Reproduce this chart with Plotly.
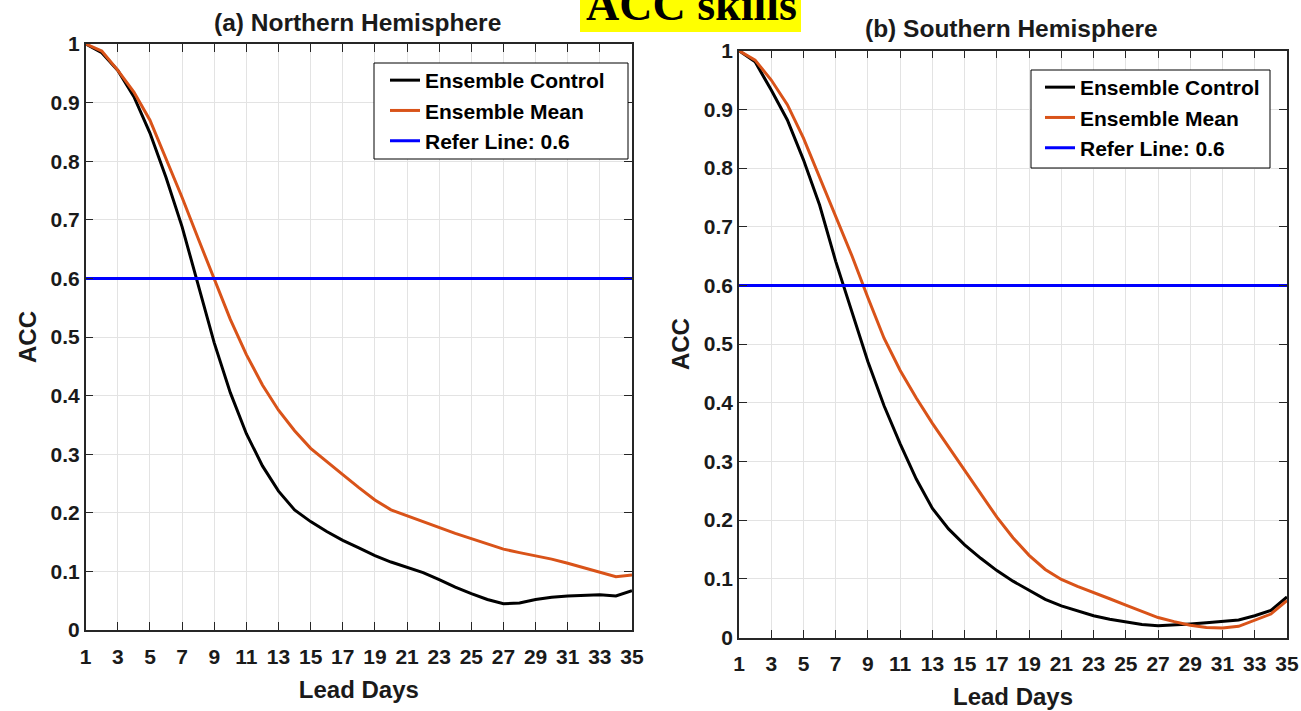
import plotly.graph_objects as go

W, H = 1301, 711

days = list(range(1, 36))

nh_control = [1.000, 0.985, 0.955, 0.910, 0.848, 0.772, 0.688, 0.588, 0.490, 0.405,
              0.335, 0.280, 0.237, 0.205, 0.185, 0.168, 0.153, 0.140, 0.127, 0.116,
              0.107, 0.098, 0.086, 0.073, 0.062, 0.052, 0.045, 0.046, 0.052, 0.056,
              0.058, 0.059, 0.060, 0.058, 0.067]
nh_mean = [1.000, 0.988, 0.955, 0.918, 0.870, 0.805, 0.738, 0.668, 0.600, 0.530,
           0.470, 0.418, 0.375, 0.340, 0.310, 0.287, 0.265, 0.243, 0.222, 0.205,
           0.195, 0.185, 0.174, 0.165, 0.156, 0.147, 0.138, 0.132, 0.127, 0.121,
           0.114, 0.106, 0.099, 0.091, 0.094]
sh_control = [1.000, 0.981, 0.933, 0.882, 0.814, 0.737, 0.641, 0.555, 0.470, 0.395,
              0.330, 0.270, 0.220, 0.185, 0.158, 0.135, 0.114, 0.096, 0.080, 0.065,
              0.054, 0.045, 0.037, 0.031, 0.026, 0.022, 0.020, 0.021, 0.023, 0.025,
              0.027, 0.030, 0.037, 0.046, 0.069]
sh_mean = [1.000, 0.984, 0.950, 0.908, 0.851, 0.785, 0.720, 0.651, 0.579, 0.510,
           0.455, 0.408, 0.365, 0.325, 0.287, 0.245, 0.205, 0.170, 0.140, 0.116,
           0.099, 0.087, 0.077, 0.066, 0.055, 0.044, 0.034, 0.027, 0.021, 0.017,
           0.016, 0.019, 0.029, 0.040, 0.063]
refer_value = 0.6

x_ticks = list(range(1, 36, 2))
y_ticks = [round(i * 0.1, 1) for i in range(11)]
y_ticktext = ["0"] + [f"{v:.1f}" for v in y_ticks[1:-1]] + ["1"]

BLACK = "#000000"
ORANGE = "#D95319"
BLUE = "#0000FF"
AXC = "#262626"
GRID = "#E3E3E3"
TXT = "#1a1a1a"
SANS = "Liberation Sans, Arial, sans-serif"

fig = go.Figure()

panels = [
    (nh_control, nh_mean, "x", "y", "legend"),
    (sh_control, sh_mean, "x2", "y2", "legend2"),
]
for ctrl, mean, xa, ya, lg in panels:
    fig.add_trace(go.Scatter(x=days, y=ctrl, mode="lines", name="Ensemble Control",
                             line=dict(color=BLACK, width=3), xaxis=xa, yaxis=ya, legend=lg))
    fig.add_trace(go.Scatter(x=days, y=mean, mode="lines", name="Ensemble Mean",
                             line=dict(color=ORANGE, width=3), xaxis=xa, yaxis=ya, legend=lg))
    fig.add_trace(go.Scatter(x=[days[0], days[-1]], y=[refer_value, refer_value], mode="lines",
                             name=f"Refer Line: {refer_value}",
                             line=dict(color=BLUE, width=3), xaxis=xa, yaxis=ya, legend=lg))


def px_x(v):
    return v / W


def px_y(v):
    return (H - v) / H


dom = {
    "left": dict(x=[px_x(85.7), px_x(632)], y=[px_y(630), px_y(44)]),
    "right": dict(x=[px_x(739), px_x(1287)], y=[px_y(637.5), px_y(50.7)]),
}

tickfont = dict(family=SANS, size=21, color=TXT, weight="bold")
titlefont = dict(family=SANS, size=24, color=TXT, weight="bold")


def xaxis_cfg(domain, anchor):
    return dict(domain=domain, anchor=anchor, range=[1, 35], tickmode="array", tickvals=x_ticks,
                ticks="inside", ticklen=8, tickwidth=1, tickcolor=AXC, showline=True,
                linecolor=AXC, linewidth=1.5, mirror="ticks", showgrid=True, gridcolor=GRID,
                gridwidth=1, zeroline=False, tickfont=tickfont, ticklabelstandoff=7,
                ticklabeloverflow="allow",
                title=dict(text="Lead Days", font=titlefont, standoff=14), automargin=False)


def yaxis_cfg(domain, anchor):
    return dict(domain=domain, anchor=anchor, range=[0, 1], tickmode="array", tickvals=y_ticks,
                ticktext=y_ticktext, ticks="inside", ticklen=8, tickwidth=1, tickcolor=AXC,
                showline=True, linecolor=AXC, linewidth=1.5, mirror="ticks", showgrid=True,
                gridcolor=GRID, gridwidth=1, zeroline=False, tickfont=tickfont,
                ticklabelstandoff=0, ticklabeloverflow="allow",
                title=dict(text="ACC", font=titlefont, standoff=7),
                automargin=False)


legfont = dict(family=SANS, size=21, color="#000000", weight="bold")
fig.update_layout(
    width=W, height=H, margin=dict(l=0, r=0, t=0, b=0),
    paper_bgcolor="white", plot_bgcolor="white",
    xaxis=xaxis_cfg(dom["left"]["x"], "y"),
    yaxis=yaxis_cfg(dom["left"]["y"], "x"),
    xaxis2=xaxis_cfg(dom["right"]["x"], "y2"),
    yaxis2=yaxis_cfg(dom["right"]["y"], "x2"),
    legend=dict(x=px_x(385), y=px_y(60), xanchor="left", yanchor="top",
                bgcolor="rgba(0,0,0,0)", borderwidth=0, font=legfont),
    legend2=dict(x=px_x(1040), y=px_y(67), xanchor="left", yanchor="top",
                 bgcolor="rgba(0,0,0,0)", borderwidth=0, font=legfont),
    showlegend=True,
)

# legend boxes (white background with black border, above grid and lines)
for (x0, x1, y0, y1) in [(374, 628, 63, 159), (1031, 1270, 70, 168)]:
    fig.add_shape(type="rect", xref="paper", yref="paper", x0=px_x(x0), x1=px_x(x1),
                  y0=px_y(y1), y1=px_y(y0), fillcolor="white",
                  line=dict(color="#000000", width=1), layer="above")

fig.add_annotation(text="(a) Northern Hemisphere", xref="paper", yref="paper",
                   x=px_x(357), y=px_y(22), xanchor="center", yanchor="middle",
                   showarrow=False, font=dict(family=SANS, size=24.5, color=TXT, weight="bold"))
fig.add_annotation(text="(b) Southern Hemisphere", xref="paper", yref="paper",
                   x=px_x(1011), y=px_y(29), xanchor="center", yanchor="middle",
                   showarrow=False, font=dict(family=SANS, size=24.5, color=TXT, weight="bold"))

fig.add_shape(type="rect", xref="paper", yref="paper", x0=px_x(580), x1=px_x(801),
              y0=px_y(32), y1=px_y(-5), fillcolor="#FFFF00", line=dict(width=0), layer="above")
fig.add_annotation(text="ACC skills", xref="paper", yref="paper", x=px_x(691), y=px_y(4),
                   xanchor="center", yanchor="middle", showarrow=False,
                   font=dict(family="Liberation Serif, Times New Roman, serif", size=46,
                             color="#000000", weight="bold"))

fig.write_html("out.html")
